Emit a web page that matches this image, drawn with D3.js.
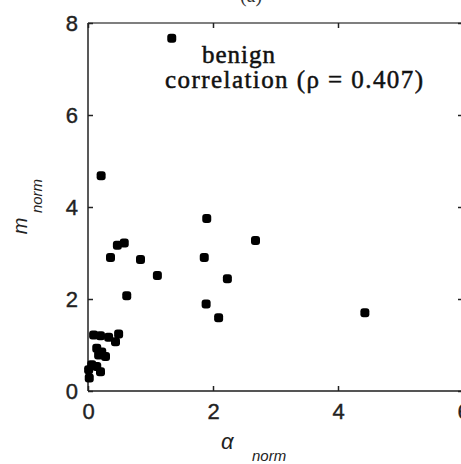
<!DOCTYPE html>
<html>
<head>
<meta charset="utf-8">
<script src="https://cdn.jsdelivr.net/npm/d3@7"></script>
<style>
  body { margin: 0; background: #fff; }
  svg { display: block; }
</style>
</head>
<body>
<div id="chart-area"></div>
<script>
// values
var alphaNorm = [1.34, 0.21, 1.90, 0.47, 0.58, 0.36, 0.84, 1.11, 1.86, 2.68, 2.23, 0.62, 1.89, 2.09, 4.43,
	0.09, 0.20, 0.33, 0.49, 0.44, 0.14, 0.22, 0.17, 0.28, 0.06, 0.14, 0.20, 0.01, 0.02]
var mNorm = [7.67, 4.68, 3.75, 3.17, 3.22, 2.90, 2.86, 2.51, 2.90, 3.27, 2.44, 2.07, 1.89, 1.59, 1.70,
	1.22, 1.20, 1.17, 1.24, 1.07, 0.93, 0.85, 0.78, 0.75, 0.57, 0.53, 0.42, 0.46, 0.28]
var xTicks = [0, 2, 4, 6]
var yTicks = [0, 2, 4, 6, 8]

var margin = { left: 88, right: -2, top: 23, bottom: 73 }
var W = 461, H = 464
var width = W - margin.left - margin.right
var height = H - margin.top - margin.bottom

var svg = d3.select("#chart-area")
	.append("svg")
	.attr("width", W)
	.attr("height", H)

var g = svg.append("g")
	.attr("transform", "translate(" + margin.left + "," + margin.top + ")")

var x = d3.scaleLinear().domain([0, 6]).range([0, width])
var y = d3.scaleLinear().domain([0, 8]).range([height, 0])

// frame
g.append("line").attr("x1", 0).attr("x2", width).attr("y1", 0).attr("y2", 0)
	.attr("stroke", "#555").attr("stroke-width", 1.5)
g.append("line").attr("x1", 0).attr("x2", width).attr("y1", height).attr("y2", height)
	.attr("stroke", "#555").attr("stroke-width", 2)
g.append("line").attr("x1", 0).attr("x2", 0).attr("y1", 0).attr("y2", height)
	.attr("stroke", "#222").attr("stroke-width", 1.5)
g.append("line").attr("x1", width).attr("x2", width).attr("y1", 0).attr("y2", height)
	.attr("stroke", "#222").attr("stroke-width", 1.5)

// axes, ticks pointing inward
var bottomAxis = d3.axisBottom(x).tickValues(xTicks).tickSize(-5).tickPadding(12).tickFormat(d3.format("d"))
var leftAxis = d3.axisLeft(y).tickValues(yTicks).tickSize(-5).tickPadding(10).tickFormat(d3.format("d"))
var topAxis = d3.axisTop(x).tickValues(xTicks).tickSize(-5).tickFormat("")
var rightAxis = d3.axisRight(y).tickValues(yTicks).tickSize(-5).tickFormat("")

g.append("g").attr("class", "x axis").attr("transform", "translate(0," + height + ")").call(bottomAxis)
g.append("g").attr("class", "y axis").call(leftAxis)
g.append("g").attr("class", "t axis").call(topAxis)
g.append("g").attr("class", "r axis").attr("transform", "translate(" + width + ",0)").call(rightAxis)

g.selectAll(".axis .domain").remove()
g.selectAll(".axis line").attr("stroke", "#222").attr("stroke-width", 1.5)
g.selectAll(".axis text")
	.attr("fill", "#222")
	.attr("stroke", "#222").attr("stroke-width", 0.4)
	.style("font-family", "'Liberation Sans', Arial, sans-serif")
	.style("font-size", "22px")
g.selectAll(".y.axis text").attr("dy", "0.36em")

// points
g.selectAll("rect.pt")
	.data(alphaNorm)
	.enter()
	.append("rect")
	.attr("class", "pt")
	.attr("x", function (d) { return x(d) - 4.5 })
	.attr("y", function (d, i) { return y(mNorm[i]) - 4.5 })
	.attr("width", 9)
	.attr("height", 9)
	.attr("rx", 3)
	.attr("fill", "#000")

// annotation
var serif = "'Liberation Serif', 'Times New Roman', serif"
svg.append("text").attr("x", 202).attr("y", 63)
	.style("font-family", serif).style("font-size", "25px").attr("fill", "#111")
	.attr("stroke", "#111").attr("stroke-width", 0.5)
	.attr("textLength", 73).attr("lengthAdjust", "spacing")
	.text("benign")
svg.append("text").attr("x", 165).attr("y", 88)
	.style("font-family", serif).style("font-size", "25px").attr("fill", "#111")
	.attr("stroke", "#111").attr("stroke-width", 0.5)
	.attr("textLength", 258).attr("lengthAdjust", "spacing")
	.text("correlation (ρ = 0.407)")

// panel label, cut at the top edge
svg.append("text").attr("x", 251).attr("y", 2).attr("text-anchor", "middle")
	.style("font-family", serif).style("font-size", "20px").attr("fill", "#333")
	.text("(a)")

// axis titles
var sansIt = "'Liberation Sans', Arial, sans-serif"
svg.append("text").attr("x", 221).attr("y", 449)
	.style("font-family", sansIt).style("font-style", "italic").style("font-size", "22px").attr("fill", "#222")
	.text("α")
svg.append("text").attr("x", 252).attr("y", 461)
	.style("font-family", sansIt).style("font-style", "italic").style("font-size", "15px").attr("fill", "#222")
	.text("norm")

svg.append("text").attr("transform", "translate(27,226) rotate(-90)").attr("text-anchor", "middle")
	.style("font-family", sansIt).style("font-style", "italic").style("font-size", "20px").attr("fill", "#222")
	.text("m")
svg.append("text").attr("transform", "translate(42,196) rotate(-90)").attr("text-anchor", "middle")
	.style("font-family", sansIt).style("font-style", "italic").style("font-size", "15px").attr("fill", "#222")
	.text("norm")
</script>
</body>
</html>
